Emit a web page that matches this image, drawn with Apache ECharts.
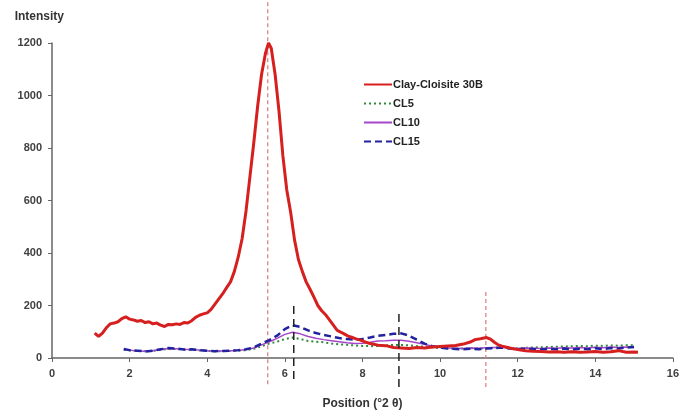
<!DOCTYPE html>
<html>
<head>
<meta charset="utf-8">
<script src="https://cdn.jsdelivr.net/npm/echarts@6/dist/echarts.min.js"></script>
<style>html,body{margin:0;padding:0;background:#fff;}#c{width:682px;height:415px;}</style>
</head>
<body>
<div id="c"></div>
<script>
// ---- Data ----
var clayX = [1.10,1.20,1.30,1.40,1.50,1.60,1.70,1.80,1.90,2.00,2.10,2.20,2.30,2.40,2.50,2.60,2.70,2.80,2.90,3.00,3.10,3.20,3.30,3.40,3.50,3.60,3.70,3.80,3.90,4.00,4.10,4.20,4.30,4.40,4.50,4.60,4.70,4.80,4.90,5.00,5.10,5.20,5.30,5.40,5.50,5.58,5.65,5.75,5.85,5.95,6.05,6.15,6.25,6.35,6.45,6.55,6.65,6.75,6.85,6.95,7.05,7.15,7.25,7.35,7.45,7.55,7.65,7.75,7.85,7.95,8.05,8.2,8.4,8.6,8.8,9.0,9.2,9.4,9.6,9.8,10.0,10.2,10.4,10.6,10.8,10.9,11.0,11.1,11.2,11.3,11.4,11.5,11.6,11.8,12.0,12.2,12.4,12.6,12.8,13.0,13.2,13.4,13.6,13.8,14.0,14.2,14.4,14.6,14.8,15.0,15.1];
var clayY = [95,82,95,115,130,133,138,150,157,148,145,140,143,135,138,130,133,125,120,128,127,130,128,135,133,142,155,163,168,172,185,205,225,245,268,290,330,385,455,560,690,820,960,1080,1160,1200,1180,1080,940,770,640,555,450,375,330,290,262,232,200,180,165,145,125,105,98,90,82,78,72,68,62,55,49,47,40,38,36,40,38,42,44,46,48,53,62,70,72,75,78,72,60,50,45,38,32,28,26,25,23,24,22,24,22,23,25,22,24,28,22,23,22];

var cl15X = [1.85,2.0,2.2,2.4,2.6,2.8,3.0,3.2,3.4,3.6,3.8,4.0,4.2,4.4,4.6,4.8,5.0,5.2,5.4,5.6,5.8,6.0,6.2,6.4,6.6,6.8,7.0,7.2,7.4,7.6,7.8,8.0,8.2,8.4,8.6,8.8,9.0,9.2,9.4,9.6,9.8,10.0,10.2,10.4,10.6,10.8,11.0,11.2,11.4,11.6,11.8,12.0,12.2,12.4,12.6,12.8,13.0,13.2,13.4,13.6,13.8,14.0,14.2,14.4,14.6,14.8,15.0];
var cl15Y = [34,30,28,25,28,33,38,36,32,33,30,28,26,27,28,30,33,40,55,68,85,110,125,118,105,95,88,82,76,72,70,72,78,85,88,92,94,85,70,55,45,40,36,34,33,35,33,36,38,40,36,33,35,34,32,35,33,36,32,35,33,37,34,38,36,40,42];

var cl10X = [1.85,2.0,2.2,2.4,2.6,2.8,3.0,3.2,3.4,3.6,3.8,4.0,4.2,4.4,4.6,4.8,5.0,5.2,5.4,5.6,5.8,6.0,6.2,6.4,6.6,6.8,7.0,7.2,7.4,7.6,7.8,8.0,8.2,8.4,8.6,8.8,9.0,9.2,9.4,9.6,9.8,10.0,10.2,10.4,10.6,10.8,11.0,11.2,11.4,11.6,11.8,12.0,12.2,12.4,12.6,12.8,13.0,13.2,13.4,13.6,13.8,14.0,14.2,14.4,14.6,14.8,15.0];
var cl10Y = [32,30,27,26,28,32,36,35,33,32,30,28,27,27,28,29,32,38,50,62,75,90,98,92,82,75,70,66,62,58,55,56,60,65,66,68,68,64,58,52,45,40,38,37,36,38,37,39,40,41,38,36,38,37,36,38,37,39,38,40,38,41,39,42,40,42,40];

var cl5X = [1.85,2.0,2.2,2.4,2.6,2.8,3.0,3.2,3.4,3.6,3.8,4.0,4.2,4.4,4.6,4.8,5.0,5.2,5.4,5.6,5.8,6.0,6.2,6.4,6.6,6.8,7.0,7.2,7.4,7.6,7.8,8.0,8.2,8.4,8.6,8.8,9.0,9.2,9.4,9.6,9.8,10.0,10.2,10.4,10.6,10.8,11.0,11.2,11.4,11.6,11.8,12.0,12.2,12.4,12.6,12.8,13.0,13.2,13.4,13.6,13.8,14.0,14.2,14.4,14.6,14.8,15.0];
var cl5Y = [31,29,27,26,27,31,35,34,32,31,29,27,26,26,27,28,30,35,45,55,62,72,78,72,65,62,60,55,52,50,48,46,45,46,48,50,50,48,45,43,40,38,37,36,36,37,36,38,39,40,38,37,39,40,41,42,43,44,45,46,45,47,46,48,47,49,48];

// reference markers: positions and vertical extents
var redRefX = [5.56, 11.18];
var redRefLow = [-100, -110];
var redRefHigh = [1360, 255];
var blackRefX = [6.23, 8.94];
var blackRefLow = [-80, -110];
var blackRefHigh = [200, 180];

var xTicks = {min: 0, max: 16, interval: 2};
var yTicks = {min: 0, max: 1200, interval: 200};

function zip(xs, ys){ return xs.map(function(x,i){ return [x, ys[i]]; }); }

var series = [
  {name:'Clay-Cloisite 30B', type:'line', data: zip(clayX, clayY), symbol:'none', z:5,
   lineStyle:{color:'#d61f1f', width:3}, itemStyle:{color:'#d61f1f'}},
  {name:'CL5', type:'line', data: zip(cl5X, cl5Y), symbol:'none', z:3,
   lineStyle:{color:'#2f8a3a', width:2, type:[2,3]}, itemStyle:{color:'#2f8a3a'}},
  {name:'CL10', type:'line', data: zip(cl10X, cl10Y), symbol:'none', z:3,
   lineStyle:{color:'#a545c8', width:1.5}, itemStyle:{color:'#a545c8'}},
  {name:'CL15', type:'line', data: zip(cl15X, cl15Y), symbol:'none', z:4,
   lineStyle:{color:'#2222a0', width:2.5, type:[7,4]}, itemStyle:{color:'#2222a0'}}
];
redRefX.forEach(function(x,i){
  series.push({type:'line', data:[[x, redRefLow[i]],[x, redRefHigh[i]]], symbol:'none', clip:false, silent:true, z:1,
    lineStyle:{color:'#dd7a7a', width:1.2, type:[4,3]}});
});
blackRefX.forEach(function(x,i){
  series.push({type:'line', data:[[x, blackRefLow[i]],[x, blackRefHigh[i]]], symbol:'none', clip:false, silent:true, z:6,
    lineStyle:{color:'#222', width:1.5, type:[8,5]}});
});

var chart = echarts.init(document.getElementById('c'), null, {renderer:'canvas'});
var labelStyle = {color:'#404040', fontWeight:'bold', fontSize:11, fontFamily:'Liberation Sans, Arial, sans-serif'};
chart.setOption({
  animation:false,
  backgroundColor:'#fff',
  grid:{left:52, right:5, top:43, bottom:54, containLabel:false},
  legend:{
    data:['Clay-Cloisite 30B','CL5','CL10','CL15'],
    orient:'vertical', left:358, top:74, itemWidth:28, itemHeight:12, itemGap:8,
    itemStyle:{opacity:0},
    textStyle:{color:'#222', fontWeight:'bold', fontSize:11, fontFamily:'Liberation Sans, Arial, sans-serif', padding:[0,0,0,-4]}
  },
  xAxis:{type:'value', min:xTicks.min, max:xTicks.max, interval:xTicks.interval,
    name:'Position (°2 θ)', nameLocation:'middle', nameGap:40,
    nameTextStyle:{color:'#333', fontWeight:'bold', fontSize:12, fontFamily:'Liberation Sans, Arial, sans-serif'},
    axisLine:{lineStyle:{color:'#666', width:1.5}}, axisTick:{length:4, lineStyle:{color:'#666'}},
    axisLabel:Object.assign({margin:10, formatter:function(v){return String(v);}}, labelStyle), splitLine:{show:false}},
  yAxis:{type:'value', min:yTicks.min, max:yTicks.max, interval:yTicks.interval,
    name:'Intensity', nameLocation:'end', nameGap:20,
    nameTextStyle:{color:'#333', fontWeight:'bold', fontSize:12, align:'right', padding:[0,-12,0,0], fontFamily:'Liberation Sans, Arial, sans-serif'},
    axisLine:{show:true, lineStyle:{color:'#666', width:1.5}}, axisTick:{show:true, length:4, lineStyle:{color:'#666'}},
    axisLabel:Object.assign({margin:10, formatter:function(v){return String(v);}}, labelStyle), splitLine:{show:false}},
  series: series
});
</script>
</body>
</html>
